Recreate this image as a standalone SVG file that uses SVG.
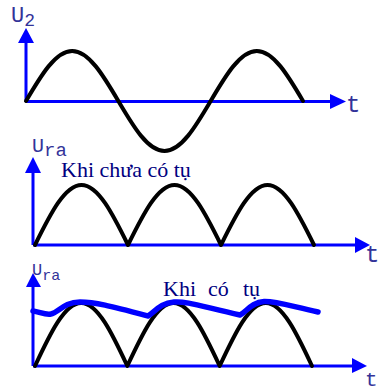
<svg xmlns="http://www.w3.org/2000/svg" width="378" height="391" viewBox="0 0 378 391">
<style>
.axis{stroke:#0000ff;stroke-width:3;fill:none}
.head{fill:#0000ff;stroke:none}
.wave{stroke:#000;stroke-width:4;fill:none;stroke-linejoin:round;stroke-linecap:round}
.ripple{stroke:#0000ff;stroke-width:5.5;fill:none;stroke-linejoin:round;stroke-linecap:round}
.lbl{font-family:"Liberation Mono","DejaVu Sans Mono",monospace;fill:#333399}
.cap{font-family:"Liberation Serif","DejaVu Serif",serif;fill:#000080;font-size:22px}
</style>
<rect width="378" height="391" fill="#fff"/>
<g id="connectors">
  <g id="axes1">
    <path class="axis" d="M26,101.5 V42 M26,101.5 H332"/>
    <polygon class="head" points="26,28 18,43 34,43"/>
    <polygon class="head" points="346,101.5 330,94 330,109"/>
  </g>
  <g id="axes2">
    <path class="axis" d="M33,245 V172 M33,245 H356"/>
    <polygon class="head" points="33,157 25,173 41,173"/>
    <polygon class="head" points="370,245 355,237 355,253"/>
  </g>
  <g id="axes3">
    <path class="axis" d="M33,366 V286 M33,366 H353"/>
    <polygon class="head" points="33,273 26,287 41,287"/>
    <polygon class="head" points="367,366 352,358 352,373"/>
  </g>
</g>
<g id="chart1">
  <path class="wave" d="M26,101 C41.07,75.36 55.59,51 72.17,51 C88.75,51 103.26,75.36 118.33,101 C133.4,126.64 147.92,151 164.5,151 C181.08,151 195.6,126.64 210.67,101 C225.74,75.36 240.26,51 256.83,51 C273.41,51 287.93,75.36 303,101"/>
  <text class="lbl" x="11" y="22" font-size="22">U<tspan font-size="18" dy="4">2</tspan></text>
  <text class="lbl" x="346" y="112" font-size="24">t</text>
</g>
<g id="chart2">
  <path class="wave" d="M35,245 C50.18,214.23 64.81,185 81.5,185 C98.19,185 112.82,214.23 128,245 C143.18,214.23 157.81,185 174.5,185 C191.19,185 205.82,214.23 221,245 C236.18,214.23 250.81,185 267.5,185 C284.19,185 298.82,214.23 314,245"/>
  <text class="lbl" x="32" y="152" font-size="20">U<tspan font-size="19" dy="4">ra</tspan></text>
  <text class="cap" x="61" y="177">Khi chưa có tụ</text>
  <text class="lbl" x="365" y="262" font-size="24">t</text>
</g>
<g id="chart3">
  <text class="cap" y="296" font-size="23"><tspan x="163">Khi</tspan><tspan x="208">có</tspan><tspan x="243">tụ</tspan></text>
  <path class="wave" d="M35,366 C50.07,333.7 64.6,303 81.17,303 C97.74,303 112.26,333.7 127.33,366 C142.4,333.7 156.93,303 173.5,303 C190.07,303 204.6,333.7 219.67,366 C234.74,333.7 249.26,303 265.83,303 C282.4,303 296.93,333.7 312,366"/>
  <path class="ripple" d="M33,311 C40,312 45,315 51,314 C58,313 64,302 80,302 C95,302 110,306 148,316 C155,312 160,303 174,302 C186,301 200,306 240,315 C246,312 252,302 264,301.5 C276,301 290,306 318,312"/>
  <text class="lbl" x="32" y="275" font-size="17">U<tspan font-size="15" dy="5">ra</tspan></text>
  <text class="lbl" x="365" y="386" font-size="21">t</text>
</g>
</svg>
